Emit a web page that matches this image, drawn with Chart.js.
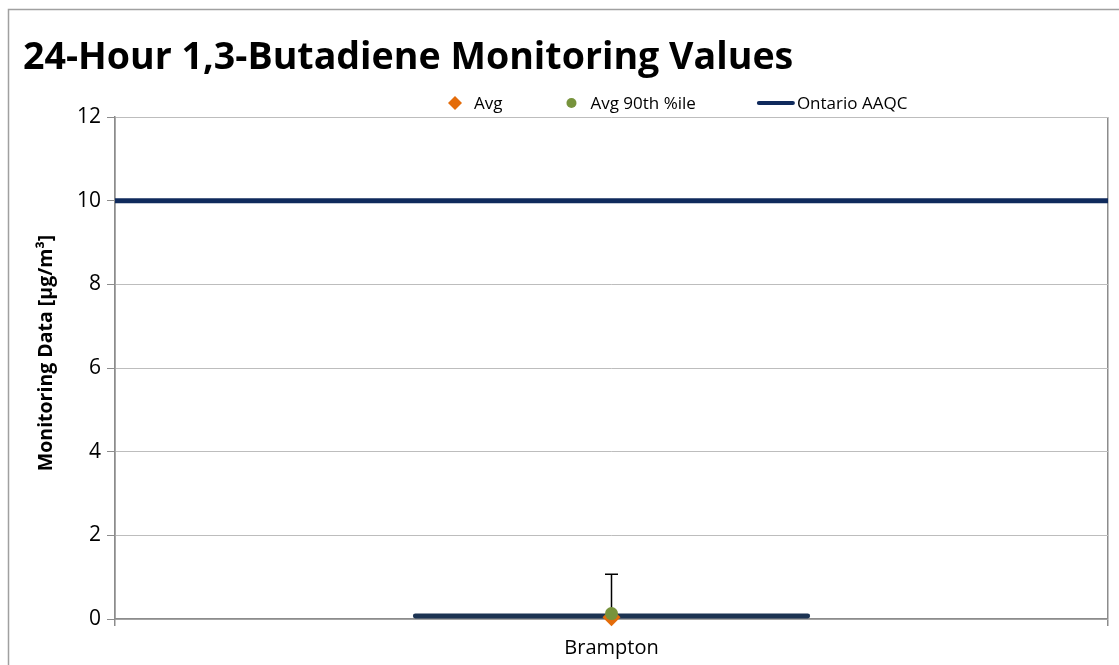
<!DOCTYPE html>
<html><head><meta charset="utf-8">
<script src="https://cdn.jsdelivr.net/npm/chart.js@4.4.1/dist/chart.umd.min.js"></script>
<style>html,body{margin:0;padding:0;background:#fff;}#wrap{width:1119px;height:665px;}</style>
</head><body><div id="wrap"><canvas id="c" width="1119" height="665"></canvas></div>
<script>
// ---- data ----
const categories = ['Brampton'];
const avgValues = [0.04];
const p90Values = [0.13];
const p90Upper = [1.07];
const rangeBarValues = [0.13];
const aaqcValue = 10;
const yTickValues = [0, 2, 4, 6, 8, 10, 12];
const titleText = '24-Hour 1,3-Butadiene Monitoring Values';
const yTitleText = 'Monitoring Data [µg/m³]';

const NAVY = '#0f2a5c';
const BAR_NAVY = '#1c3352';
const ORANGE = '#e46c0a';
const GREEN = '#77933c';
const AXIS_GREY = '#8c8c8c';

Chart.defaults.font.family = '"Open Sans", sans-serif';
Chart.defaults.color = '#000';

const legendItems = [
  {label: 'Avg', style: 'rectRot', color: ORANGE, r: 7, w: 14, gap: 12},
  {label: 'Avg 90th %ile', style: 'circle', color: GREEN, r: 5, w: 14, gap: 12},
  {label: 'Ontario AAQC', style: 'line', color: NAVY, r: 0, w: 36, gap: 3}
];

const frame = {
  id: 'frame',
  beforeDraw(chart) {
    const ctx = chart.ctx;
    ctx.save();
    ctx.fillStyle = '#fff';
    ctx.fillRect(0, 0, chart.width, chart.height);
    ctx.strokeStyle = '#a0a0a0';
    ctx.lineWidth = 1.5;
    ctx.beginPath();
    ctx.moveTo(8.5, chart.height);
    ctx.lineTo(8.5, 9.5);
    ctx.lineTo(chart.width, 9.5);
    ctx.stroke();
    ctx.restore();
  }
};

const errorBars = {
  id: 'errorBars',
  afterDatasetDraw(chart, args) {
    if (chart.data.datasets[args.index].label !== 'Avg') return;
    const ctx = chart.ctx, x = chart.scales.x, y = chart.scales.y;
    ctx.save();
    ctx.strokeStyle = '#000';
    ctx.lineWidth = 1.5;
    categories.forEach((c, i) => {
      const px = x.getPixelForValue(i);
      const y0 = y.getPixelForValue(p90Values[i]);
      const y1 = y.getPixelForValue(p90Upper[i]);
      ctx.beginPath();
      ctx.moveTo(px, y0); ctx.lineTo(px, y1);
      ctx.moveTo(px - 6.5, y1); ctx.lineTo(px + 6.5, y1);
      ctx.stroke();
    });
    ctx.restore();
  }
};

const yTitle = {
  id: 'yTitle',
  afterDraw(chart) {
    const ctx = chart.ctx, ca = chart.chartArea;
    ctx.save();
    ctx.translate(46, ca.top + (ca.bottom - ca.top) * 0.47);
    ctx.rotate(-Math.PI / 2);
    ctx.font = 'bold 19.5px "Open Sans"';
    ctx.fillStyle = '#000';
    ctx.textAlign = 'center';
    ctx.textBaseline = 'middle';
    ctx.fillText(yTitleText, 0, 0);
    ctx.restore();
  }
};

const customLegend = {
  id: 'customLegend',
  afterDraw(chart) {
    const ctx = chart.ctx;
    const cy = chart.chartArea.top - 14;
    ctx.save();
    ctx.font = '17px "Open Sans"';
    ctx.textBaseline = 'middle';
    ctx.textAlign = 'left';
    let x = 448;
    legendItems.forEach(it => {
      const mx = x + it.w / 2;
      ctx.fillStyle = it.color;
      ctx.strokeStyle = it.color;
      if (it.style === 'rectRot') {
        ctx.beginPath();
        ctx.moveTo(mx, cy - it.r); ctx.lineTo(mx + it.r, cy);
        ctx.lineTo(mx, cy + it.r); ctx.lineTo(mx - it.r, cy);
        ctx.closePath(); ctx.fill();
      } else if (it.style === 'circle') {
        ctx.beginPath(); ctx.arc(mx, cy, it.r, 0, Math.PI * 2); ctx.fill();
      } else {
        ctx.lineWidth = 4; ctx.lineCap = 'round';
        ctx.beginPath(); ctx.moveTo(x + 1, cy); ctx.lineTo(x + it.w - 1, cy); ctx.stroke();
      }
      x += it.w + it.gap;
      ctx.fillStyle = '#000';
      ctx.fillText(it.label, x, cy + 1);
      x += ctx.measureText(it.label).width + 62;
    });
    ctx.restore();
  }
};

new Chart(document.getElementById('c'), {
  type: 'bar',
  data: {
    labels: categories,
    datasets: [
      {type: 'line', label: 'Avg 90th %ile', data: p90Values, showLine: false, clip: false,
       pointStyle: 'circle', pointRadius: 6.5, pointBackgroundColor: GREEN, pointBorderColor: GREEN, pointBorderWidth: 0, order: 1},
      {type: 'line', label: 'Avg', data: avgValues, showLine: false, clip: false,
       pointStyle: 'rectRot', pointRadius: 9, pointBackgroundColor: ORANGE, pointBorderColor: ORANGE, pointBorderWidth: 0, order: 2},
      {type: 'bar', label: 'Range', data: rangeBarValues, backgroundColor: BAR_NAVY, grouped: false,
       borderRadius: 3, borderSkipped: false, barPercentage: 0.4, categoryPercentage: 1, order: 3},
      {type: 'line', label: 'Ontario AAQC', xAxisID: 'x2',
       data: [{x: 0, y: aaqcValue}, {x: 1, y: aaqcValue}], borderColor: NAVY, borderWidth: 5,
       pointRadius: 0, order: 4}
    ]
  },
  options: {
    responsive: false,
    animation: false,
    events: [],
    layout: {padding: {left: 23, right: 11, top: 24, bottom: 0}},
    plugins: {
      legend: {display: false},
      tooltip: {enabled: false},
      title: {display: true, text: titleText, align: 'start', color: '#000',
        font: {size: 37.6, weight: 'bold'}, padding: {top: 12, bottom: 35.9}}
    },
    scales: {
      x: {
        type: 'category', offset: true,
        grid: {display: true, offset: true, color: AXIS_GREY, lineWidth: 1.5, tickLength: 7, tickColor: AXIS_GREY},
        border: {display: true, color: AXIS_GREY, width: 1.5},
        ticks: {font: {size: 20}, color: '#000', padding: 10},
        afterFit(s) { s.height = 46; }
      },
      x2: {type: 'linear', min: 0, max: 1, offset: false, display: false, grid: {display: false}},
      y: {
        min: 0, max: 12,
        afterBuildTicks(s) { s.ticks = yTickValues.map(v => ({value: v})); },
        grid: {color: '#bdbdbd', lineWidth: 1, borderDash: [2, 2], tickLength: 8, tickColor: AXIS_GREY, tickBorderDash: []},
        border: {display: true, color: AXIS_GREY, width: 1.5},
        ticks: {font: {size: 21}, color: '#000', padding: 6},
        afterFit(s) { s.width = 92; }
      }
    }
  },
  plugins: [frame, errorBars, customLegend, yTitle]
});
</script></body></html>
